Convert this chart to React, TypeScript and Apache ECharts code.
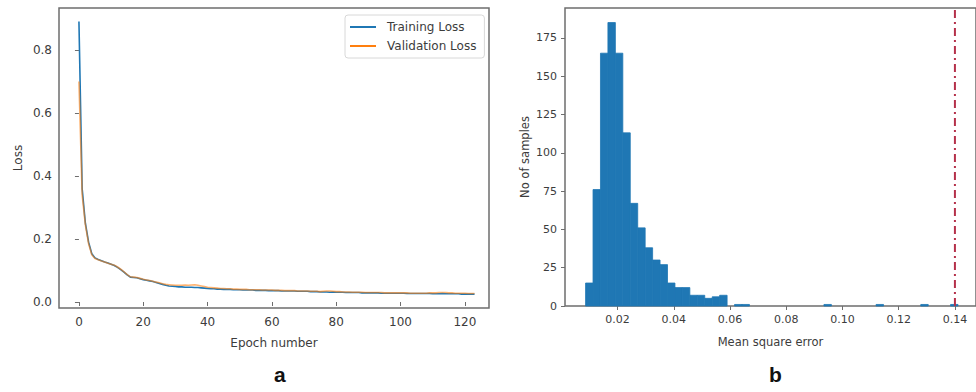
import React, { useEffect, useRef } from "react";
import * as echarts from "echarts";

// ---------- Data ----------
const epochs: number[] = Array.from({ length: 124 }, (_, i) => i);

const trainingLoss: number[] = [
  0.89, 0.36, 0.25, 0.19, 0.153, 0.14, 0.135, 0.131, 0.127, 0.124,
  0.12, 0.116, 0.11, 0.103, 0.095, 0.086, 0.079, 0.078, 0.077, 0.074,
  0.071, 0.069, 0.067, 0.065, 0.062, 0.059, 0.056, 0.053, 0.051, 0.05,
  0.049, 0.048, 0.048, 0.047, 0.047, 0.047, 0.046, 0.046, 0.045, 0.044,
  0.043, 0.042, 0.042, 0.041, 0.041, 0.04, 0.04, 0.04, 0.039, 0.039,
  0.039, 0.038, 0.038, 0.038, 0.038, 0.037, 0.037, 0.037, 0.037, 0.036,
  0.036, 0.036, 0.036, 0.035, 0.035, 0.035, 0.035, 0.035, 0.034, 0.034,
  0.034, 0.034, 0.033, 0.033, 0.033, 0.032, 0.032, 0.032, 0.031, 0.032,
  0.031, 0.031, 0.031, 0.03, 0.03, 0.03, 0.03, 0.03, 0.029, 0.029,
  0.029, 0.029, 0.029, 0.029, 0.028, 0.028, 0.028, 0.028, 0.028, 0.028,
  0.028, 0.028, 0.027, 0.027, 0.027, 0.027, 0.027, 0.027, 0.027, 0.027,
  0.026, 0.026, 0.026, 0.027, 0.026, 0.026, 0.026, 0.026, 0.026, 0.025,
  0.025, 0.025, 0.025, 0.025,
];

const validationLoss: number[] = [
  0.7, 0.34, 0.245, 0.185, 0.15, 0.138, 0.134, 0.13, 0.127, 0.123,
  0.12, 0.117, 0.111, 0.104, 0.096, 0.087, 0.08, 0.079, 0.078, 0.075,
  0.072, 0.07, 0.068, 0.066, 0.063, 0.061, 0.058, 0.056, 0.055, 0.054,
  0.053, 0.053, 0.053, 0.054, 0.053, 0.054, 0.055, 0.053, 0.051, 0.049,
  0.047, 0.046, 0.045, 0.044, 0.043, 0.043, 0.042, 0.042, 0.041, 0.041,
  0.04, 0.04, 0.04, 0.039, 0.039, 0.039, 0.039, 0.038, 0.038, 0.038,
  0.038, 0.037, 0.037, 0.037, 0.036, 0.036, 0.036, 0.036, 0.035, 0.035,
  0.035, 0.035, 0.034, 0.034, 0.034, 0.033, 0.034, 0.035, 0.035, 0.034,
  0.033, 0.033, 0.032, 0.032, 0.032, 0.031, 0.031, 0.031, 0.031, 0.03,
  0.03, 0.03, 0.03, 0.03, 0.03, 0.029, 0.029, 0.029, 0.029, 0.029,
  0.029, 0.029, 0.029, 0.028, 0.028, 0.028, 0.028, 0.028, 0.028, 0.029,
  0.029, 0.029, 0.03, 0.03, 0.03, 0.029, 0.029, 0.028, 0.028, 0.028,
  0.028, 0.027, 0.027, 0.027,
];

const lossTicks: number[] = [0, 0.2, 0.4, 0.6, 0.8];
const epochTicks: number[] = [0, 20, 40, 60, 80, 100, 120];

const histBinStart = 0.0086;
const histBinWidth = 0.00265;
const histCounts: number[] = [
  15, 76, 165, 185, 165, 113, 67, 51, 38, 30,
  27, 15, 12, 12, 7, 7, 5, 6, 7, 0,
  1, 1, 0, 0, 0, 0, 0, 0, 0, 0,
  0, 0, 1, 0, 0, 0, 0, 0, 0, 1,
  0, 0, 0, 0, 0, 1, 0, 0, 0, 1,
];
const threshold = 0.14;
const countTicks: number[] = [0, 25, 50, 75, 100, 125, 150, 175];
const mseTicks: number[] = [0.02, 0.04, 0.06, 0.08, 0.1, 0.12, 0.14];

// ---------- Chart ----------
const FONT = "DejaVu Sans";
const FRAME = "#6e6e6e";
const LABEL = "#3c3c3c";
const BAR = "#1f77b4";

export default function App() {
  const ref = useRef<HTMLDivElement>(null);

  useEffect(() => {
    if (!ref.current) return;
    document.body.style.margin = "0";
    const chart = echarts.init(ref.current, undefined, { renderer: "svg" });

    const lineData1 = epochs.map((e, i) => [e, trainingLoss[i]]);
    const lineData2 = epochs.map((e, i) => [e, validationLoss[i]]);
    const histData = histCounts.map((c, i) => [
      histBinStart + i * histBinWidth,
      histBinStart + (i + 1) * histBinWidth,
      c,
    ]);

    const axisCommon = {
      axisLine: { show: false },
      splitLine: { show: false },
    };

    chart.setOption({
      animation: false,
      backgroundColor: "#ffffff",
      textStyle: { fontFamily: FONT },
      grid: [
        {
          left: 59,
          right: 487,
          top: 8,
          bottom: 84,
          show: true,
          borderColor: FRAME,
          borderWidth: 1.5,
          backgroundColor: "transparent",
        },
        {
          left: 565,
          right: -4,
          top: 8,
          bottom: 86,
          show: true,
          borderColor: FRAME,
          borderWidth: 1.5,
          backgroundColor: "transparent",
        },
      ],
      legend: {
        data: ["Training Loss", "Validation Loss"],
        orient: "vertical",
        left: 345,
        top: 15,
        width: 143,
        padding: [6, 8, 6, 5],
        itemGap: 7,
        itemWidth: 26,
        itemHeight: 2,
        icon: "rect",
        borderColor: "#d8d8d8",
        borderWidth: 1,
        borderRadius: 3,
        textStyle: { fontFamily: FONT, fontSize: 12, color: LABEL, padding: [0, 0, 0, 6] },
      },
      xAxis: [
        {
          type: "value",
          gridIndex: 0,
          min: -6.2,
          max: 127.5,
          ...axisCommon,
          axisTick: {
            show: true,
            customValues: epochTicks,
            length: 4,
            lineStyle: { color: FRAME },
          },
          axisLabel: {
            customValues: epochTicks,
            fontFamily: FONT,
            fontSize: 12,
            color: LABEL,
            margin: 8,
          },
          name: "Epoch number",
          nameLocation: "middle",
          nameGap: 29,
          nameTextStyle: { fontFamily: FONT, fontSize: 12, color: LABEL },
        },
        {
          type: "value",
          gridIndex: 1,
          min: 0.00128,
          max: 0.1475,
          ...axisCommon,
          axisTick: {
            show: true,
            customValues: mseTicks,
            length: 4,
            lineStyle: { color: FRAME },
          },
          axisLabel: {
            customValues: mseTicks,
            fontFamily: FONT,
            fontSize: 11,
            color: LABEL,
            margin: 8,
            formatter: (v: number) => v.toFixed(2),
          },
          name: "Mean square error",
          nameLocation: "middle",
          nameGap: 30,
          nameTextStyle: { fontFamily: FONT, fontSize: 11.5, color: LABEL },
        },
      ],
      yAxis: [
        {
          type: "value",
          gridIndex: 0,
          min: -0.019,
          max: 0.933,
          ...axisCommon,
          axisTick: {
            show: true,
            customValues: lossTicks,
            length: 4,
            lineStyle: { color: FRAME },
          },
          axisLabel: {
            customValues: lossTicks,
            fontFamily: FONT,
            fontSize: 12,
            color: LABEL,
            margin: 7,
            formatter: (v: number) => v.toFixed(1),
          },
          name: "Loss",
          nameLocation: "middle",
          nameGap: 35,
          nameTextStyle: { fontFamily: FONT, fontSize: 12, color: LABEL },
        },
        {
          type: "value",
          gridIndex: 1,
          min: 0,
          max: 194.5,
          ...axisCommon,
          axisTick: {
            show: true,
            customValues: countTicks,
            length: 4,
            lineStyle: { color: FRAME },
          },
          axisLabel: {
            customValues: countTicks,
            fontFamily: FONT,
            fontSize: 11,
            color: LABEL,
            margin: 8,
          },
          name: "No of samples",
          nameLocation: "middle",
          nameGap: 34,
          nameTextStyle: { fontFamily: FONT, fontSize: 11.5, color: LABEL },
        },
      ],
      series: [
        {
          name: "Training Loss",
          type: "line",
          xAxisIndex: 0,
          yAxisIndex: 0,
          data: lineData1,
          showSymbol: false,
          lineStyle: { color: "#1f77b4", width: 1.6 },
          itemStyle: { color: "#1f77b4" },
        },
        {
          name: "Validation Loss",
          type: "line",
          xAxisIndex: 0,
          yAxisIndex: 0,
          data: lineData2,
          showSymbol: false,
          lineStyle: { color: "#ff7f0e", width: 1.6, opacity: 0.6 },
          itemStyle: { color: "#ff7f0e" },
        },
        {
          type: "custom",
          xAxisIndex: 1,
          yAxisIndex: 1,
          data: histData,
          encode: { x: [0, 1], y: 2 },
          renderItem: (params: any, api: any) => {
            const x0 = api.value(0);
            const x1 = api.value(1);
            const c = api.value(2);
            if (!c) return null;
            const p0 = api.coord([x0, c]);
            const p1 = api.coord([x1, 0]);
            return {
              type: "rect",
              shape: { x: p0[0], y: p0[1], width: p1[0] - p0[0], height: p1[1] - p0[1] },
              style: { fill: BAR, stroke: BAR, lineWidth: 0.8 },
            };
          },
        },
        {
          type: "line",
          xAxisIndex: 1,
          yAxisIndex: 1,
          data: [
            [threshold, 0],
            [threshold, 194.5],
          ],
          showSymbol: false,
          lineStyle: { color: "#b5304a", width: 2, type: [8, 4, 2, 4] },
          z: 5,
        },
      ],
      graphic: [
        {
          type: "text",
          left: 274,
          top: 364,
          style: {
            text: "a",
            font: "bold 21px 'Liberation Sans', Arial, sans-serif",
            fill: "#111",
          },
        },
        {
          type: "text",
          left: 769,
          top: 364,
          style: {
            text: "b",
            font: "bold 21px 'Liberation Sans', Arial, sans-serif",
            fill: "#111",
          },
        },
      ],
    });

    return () => {
      chart.dispose();
    };
  }, []);

  return (
    <div
      ref={ref}
      style={{ position: "absolute", left: 0, top: 0, width: 976, height: 392 }}
    />
  );
}
